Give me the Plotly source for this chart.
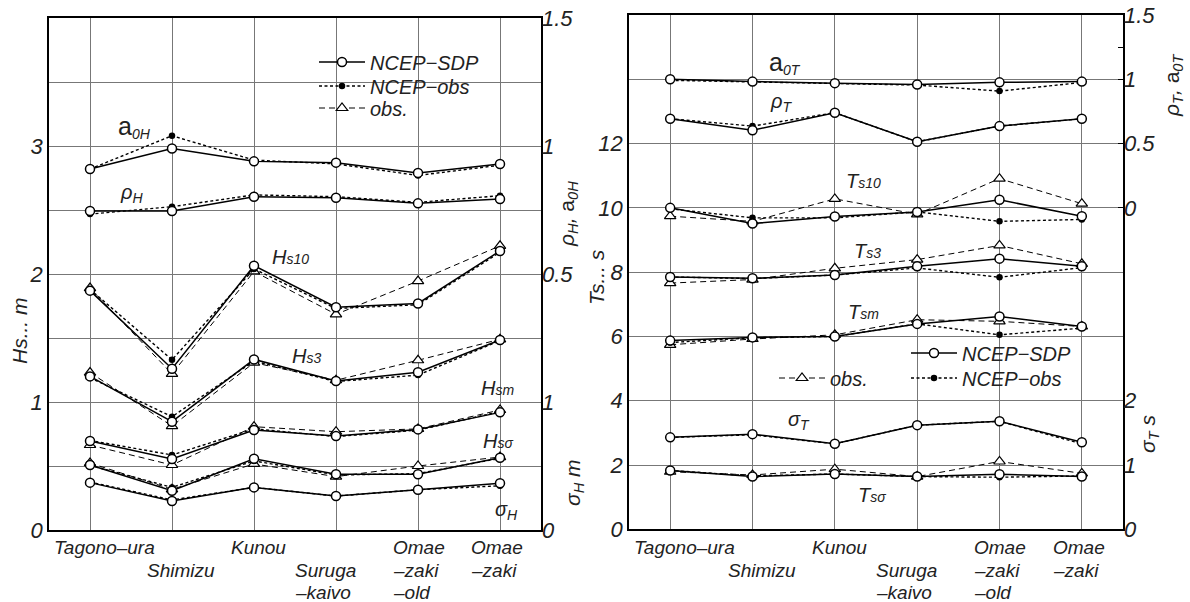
import plotly.graph_objects as go

# ---------------- data ----------------
categories = ["Tagono–ura", "Shimizu", "Kunou", "Suruga–kaivo", "Omae–zaki–old", "Omae–zaki"]
cat_label_lines = [["Tagono–ura"], ["", "Shimizu"], ["Kunou"], ["", "Suruga", "–kaivo"],
                   ["Omae", "–zaki", "–old"], ["Omae", "–zaki"]]
idx = list(range(len(categories)))

# left panel (wave height)
a0H_sdp = [0.91, 0.99, 0.94, 0.935, 0.895, 0.93]
a0H_nobs = [0.91, 1.04, 0.945, 0.93, 0.885, 0.925]
rhoH_sdp = [0.746, 0.746, 0.802, 0.798, 0.776, 0.793]
rhoH_nobs = [0.734, 0.763, 0.809, 0.802, 0.78, 0.806]
Hs10_sdp = [1.87, 1.26, 2.065, 1.74, 1.77, 2.18]
Hs10_nobs = [1.88, 1.33, 2.04, 1.73, 1.76, 2.17]
Hs10_obs = [1.89, 1.22, 2.02, 1.685, 1.945, 2.22]
Hs3_sdp = [1.20, 0.846, 1.333, 1.164, 1.232, 1.484]
Hs3_nobs = [1.19, 0.885, 1.32, 1.16, 1.21, 1.48]
Hs3_obs = [1.23, 0.812, 1.307, 1.17, 1.326, 1.49]
Hsm_sdp = [0.695, 0.555, 0.781, 0.734, 0.786, 0.919]
Hsm_nobs = [0.70, 0.586, 0.79, 0.73, 0.78, 0.925]
Hsm_obs = [0.664, 0.508, 0.807, 0.768, 0.79, 0.9375]
Hss_sdp = [0.508, 0.307, 0.557, 0.435, 0.435, 0.565]
Hss_nobs = [0.505, 0.333, 0.54, 0.43, 0.44, 0.56]
Hss_obs = [0.523, 0.318, 0.516, 0.417, 0.50, 0.57]
sigH_sdp = [0.37, 0.227, 0.333, 0.266, 0.315, 0.365]
sigH_nobs = [0.375, 0.235, 0.333, 0.265, 0.315, 0.345]

# right panel (wave period)
a0T_sdp = [1.0, 0.982, 0.97, 0.96, 0.976, 0.982]
a0T_nobs = [0.992, 0.98, 0.97, 0.955, 0.908, 0.975]
rhoT_sdp = [0.693, 0.604, 0.74, 0.514, 0.636, 0.693]
rhoT_nobs = [0.693, 0.636, 0.74, 0.514, 0.636, 0.693]
Ts10_sdp = [10.0, 9.51, 9.73, 9.87, 10.25, 9.74]
Ts10_nobs = [9.97, 9.69, 9.69, 9.875, 9.58, 9.64]
Ts10_obs = [9.74, 9.58, 10.28, 9.8, 10.91, 10.13]
Ts3_sdp = [7.85, 7.81, 7.91, 8.18, 8.42, 8.18]
Ts3_nobs = [7.85, 7.80, 7.91, 8.13, 7.84, 8.14]
Ts3_obs = [7.66, 7.77, 8.12, 8.39, 8.83, 8.26]
Tsm_sdp = [5.87, 5.97, 6.0, 6.39, 6.62, 6.31]
Tsm_nobs = [5.81, 5.96, 6.0, 6.39, 6.05, 6.26]
Tsm_obs = [5.74, 5.92, 6.05, 6.52, 6.47, 6.31]
sigT_sdp = [1.43, 1.48, 1.33, 1.62, 1.68, 1.355]
sigT_nobs = [1.43, 1.47, 1.33, 1.62, 1.68, 1.33]
Tss_sdp = [1.83, 1.64, 1.72, 1.64, 1.71, 1.64]
Tss_nobs = [1.83, 1.66, 1.72, 1.64, 1.62, 1.66]
Tss_obs = [1.79, 1.69, 1.87, 1.64, 2.11, 1.74]

# ---------------- styles ----------------
FONT = "Liberation Sans, Arial, sans-serif"
W, H = 1190, 602
STY = {
    "sdp": dict(line=dict(color="black", width=1.5),
                marker=dict(symbol="circle", size=9, color="white", line=dict(color="black", width=1.5)),
                name="NCEP−SDP"),
    "nobs": dict(line=dict(color="black", width=1.4, dash="3px,2.5px"),
                 marker=dict(symbol="circle", size=6.5, color="black", line=dict(color="black", width=0)),
                 name="NCEP−obs"),
    "obs": dict(line=dict(color="black", width=1, dash="6px,4px"),
                marker=dict(symbol="triangle-up", size=10, color="white", line=dict(color="black", width=1.2)),
                name="obs."),
}

fig = go.Figure()


def add(y, kind, xa, ya, legend=None):
    s = STY[kind]
    fig.add_trace(go.Scatter(
        x=idx, y=y, mode="lines+markers", xaxis=xa, yaxis=ya,
        line=s["line"], marker=s["marker"], name=s["name"],
        showlegend=legend is not None, legend=legend if legend else "legend",
        cliponaxis=False, hoverinfo="skip"))


# left panel: draw obs first, then NCEP-obs, then SDP on top
for ys in [Hs10_obs, Hs3_obs, Hsm_obs, Hss_obs]:
    add(ys, "obs", "x", "y", "legend3" if ys is Hs10_obs else None)
for ys in [Hs10_nobs, Hs3_nobs, Hsm_nobs, Hss_nobs]:
    add(ys, "nobs", "x", "y", "legend2" if ys is Hs10_nobs else None)
add(sigH_nobs, "nobs", "x", "y3")
add(a0H_nobs, "nobs", "x", "y2")
add(rhoH_nobs, "nobs", "x", "y2")
for ys in [Hs10_sdp, Hs3_sdp, Hsm_sdp, Hss_sdp]:
    add(ys, "sdp", "x", "y", "legend" if ys is Hs10_sdp else None)
add(sigH_sdp, "sdp", "x", "y3")
add(a0H_sdp, "sdp", "x", "y2")
add(rhoH_sdp, "sdp", "x", "y2")

# right panel
for ys in [Ts10_obs, Ts3_obs, Tsm_obs, Tss_obs]:
    add(ys, "obs", "x2", "y4", "legend6" if ys is Ts10_obs else None)
for ys in [Ts10_nobs, Ts3_nobs, Tsm_nobs, Tss_nobs]:
    add(ys, "nobs", "x2", "y4", "legend5" if ys is Ts10_nobs else None)
add(sigT_nobs, "nobs", "x2", "y6")
add(a0T_nobs, "nobs", "x2", "y5")
add(rhoT_nobs, "nobs", "x2", "y5")
for ys in [Ts10_sdp, Ts3_sdp, Tsm_sdp, Tss_sdp]:
    add(ys, "sdp", "x2", "y4", "legend4" if ys is Ts10_sdp else None)
add(sigT_sdp, "sdp", "x2", "y6")
add(a0T_sdp, "sdp", "x2", "y5")
add(rhoT_sdp, "sdp", "x2", "y5")

# ---------------- axes ----------------
TICKF = dict(family=FONT, size=22, color="#222", style="italic")
GRID = "#777777"
left_x = [49 / W, 541 / W]
left_y = [72 / H, 584 / H]
right_x = [629 / W, 1123 / W]
right_y = [72.7 / H, 587 / H]

xcommon = dict(range=[-0.5, 5.5], tickvals=idx, showticklabels=False, ticks="",
               showgrid=True, gridcolor=GRID, gridwidth=1, zeroline=False,
               showline=True, mirror=True, linecolor="black", linewidth=1.5, fixedrange=True)

LEGF = dict(family=FONT, size=20, color="#222", style="italic")


def leg(px, py):
    return dict(x=px / W, y=1 - py / H, xanchor="left", yanchor="middle",
                bgcolor="rgba(0,0,0,0)", font=LEGF, itemwidth=46, borderwidth=0)


fig.update_layout(
    width=W, height=H, margin=dict(l=0, r=0, t=0, b=0, autoexpand=False),
    paper_bgcolor="white", plot_bgcolor="white",
    xaxis=dict(domain=left_x, anchor="y", **xcommon),
    xaxis2=dict(domain=right_x, anchor="y4", **xcommon),
    yaxis=dict(domain=left_y, anchor="x", range=[0, 4],
               tickvals=[0, 0.5, 1, 1.5, 2, 2.5, 3, 3.5],
               ticktext=["0", "", "1", "", "2", "", "3", ""],
               tickfont=TICKF, ticks="", showgrid=True, gridcolor=GRID, gridwidth=1,
               zeroline=False, showline=True, mirror=True, linecolor="black", linewidth=1.5),
    yaxis2=dict(overlaying="y", anchor="x", side="right", range=[-0.5, 1.5],
                tickvals=[0.5, 1, 1.5], ticktext=["0.5", "1", "1.5"], tickfont=TICKF,
                ticks="", showgrid=False, zeroline=False, showline=False),
    yaxis3=dict(overlaying="y", anchor="x", side="right", range=[0, 4],
                tickvals=[0, 1], ticktext=["0", "1"], tickfont=TICKF,
                ticks="", showgrid=False, zeroline=False, showline=False),
    yaxis4=dict(domain=right_y, anchor="x2", range=[0, 16],
                tickvals=[0, 2, 4, 6, 8, 10, 12, 14],
                ticktext=["0", "2", "4", "6", "8", "10", "12", ""],
                tickfont=TICKF, ticks="", showgrid=True, gridcolor=GRID, gridwidth=1,
                zeroline=False, showline=True, mirror=True, linecolor="black", linewidth=1.5),
    yaxis5=dict(overlaying="y4", anchor="x2", side="right", range=[-2.5, 1.5],
                tickvals=[0, 0.5, 1, 1.25, 1.5], ticktext=["0", "0.5", "1", "", "1.5"], tickfont=TICKF,
                ticks="inside", ticklen=5, tickcolor="black", showgrid=False, zeroline=False, showline=False),
    yaxis6=dict(overlaying="y4", anchor="x2", side="right", range=[0, 8],
                tickvals=[0, 1, 2], ticktext=["0", "1", "2"], tickfont=TICKF,
                ticks="", showgrid=False, zeroline=False, showline=False),
    showlegend=True,
    legend=leg(314, 62),
    legend2=leg(314, 86),
    legend3=leg(314, 108),
    legend4=leg(906, 353),
    legend5=leg(906, 378),
    legend6=leg(774, 378),
)

# white boxes behind the legends (cover grid lines like the original)
fig.add_shape(type="rect", xref="paper", yref="paper", x0=310 / W, x1=490 / W,
              y0=1 - 120 / H, y1=1 - 43 / H, fillcolor="white", line_width=0, layer="between")
fig.add_shape(type="rect", xref="paper", yref="paper", x0=766 / W, x1=1076 / W,
              y0=1 - 392 / H, y1=1 - 340 / H, fillcolor="white", line_width=0, layer="between")

# ---------------- annotations ----------------
ann = []
LAB = dict(family=FONT, size=19, color="#222", style="italic")
label_offsets = [-38, -27, -25, -43, -27.5, -31]
row_y = [547, 570, 592]
for xa in ["x", "x2"]:
    for i, lines in enumerate(cat_label_lines):
        for r, t in enumerate(lines):
            if not t:
                continue
            ann.append(dict(xref=xa, yref="paper", x=i, y=1 - row_y[r] / H, text=t,
                            xanchor="left", yanchor="middle", xshift=label_offsets[i],
                            showarrow=False, font=LAB))

CL = dict(family=FONT, size=20, color="#222", style="italic")
curve_labels = [
    ("x", "y", 0.54, 3.15, "<span style='font-size:25px;font-style:normal'>a</span><sub>0H</sub>"),
    ("x", "y", 0.50, 2.63, "ρ<sub>H</sub>"),
    ("x", "y", 2.44, 2.13, "H<span style='font-size:14px'>s10</span>"),
    ("x", "y", 2.64, 1.36, "H<span style='font-size:14px'>s3</span>"),
    ("x", "y", 4.97, 1.11, "H<span style='font-size:14px'>sm</span>"),
    ("x", "y", 4.97, 0.695, "H<span style='font-size:14px'>sσ</span>"),
    ("x", "y", 5.08, 0.156, "σ<sub>H</sub>"),
    ("x2", "y4", 1.39, 14.5, "<span style='font-size:25px;font-style:normal'>a</span><sub>0T</sub>"),
    ("x2", "y4", 1.35, 13.28, "ρ<sub>T</sub>"),
    ("x2", "y4", 2.35, 10.85, "T<span style='font-size:14px'>s10</span>"),
    ("x2", "y4", 2.40, 8.67, "T<span style='font-size:14px'>s3</span>"),
    ("x2", "y4", 2.35, 6.77, "T<span style='font-size:14px'>sm</span>"),
    ("x2", "y4", 1.56, 3.37, "σ<sub>T</sub>"),
    ("x2", "y4", 2.45, 1.07, "T<span style='font-size:14px'>sσ</span>"),
]
for xa, ya, x, y, t in curve_labels:
    ann.append(dict(xref=xa, yref=ya, x=x, y=y, text=t, showarrow=False, font=CL,
                    xanchor="center", yanchor="middle"))

AT = dict(family=FONT, size=21, color="#222", style="italic")
axis_titles = [
    (19, 331, "Hs... m"),
    (568, 214, "ρ<sub>H</sub>, <span style='font-style:normal'>a</span><sub>0H</sub>"),
    (574, 483, "σ<sub>H</sub> m"),
    (596, 277, "Ts... s"),
    (1173, 85, "ρ<sub>T</sub>, <span style='font-style:normal'>a</span><sub>0T</sub>"),
    (1149, 434, "σ<sub>T</sub> s"),
]
for px, py, t in axis_titles:
    ann.append(dict(xref="paper", yref="paper", x=px / W, y=1 - py / H, text=t,
                    textangle=-90, showarrow=False, font=AT,
                    xanchor="center", yanchor="middle"))

fig.update_layout(annotations=ann)
fig.write_html("out.html", config={"displayModeBar": False},
               post_script="document.body.style.margin='0px';")
